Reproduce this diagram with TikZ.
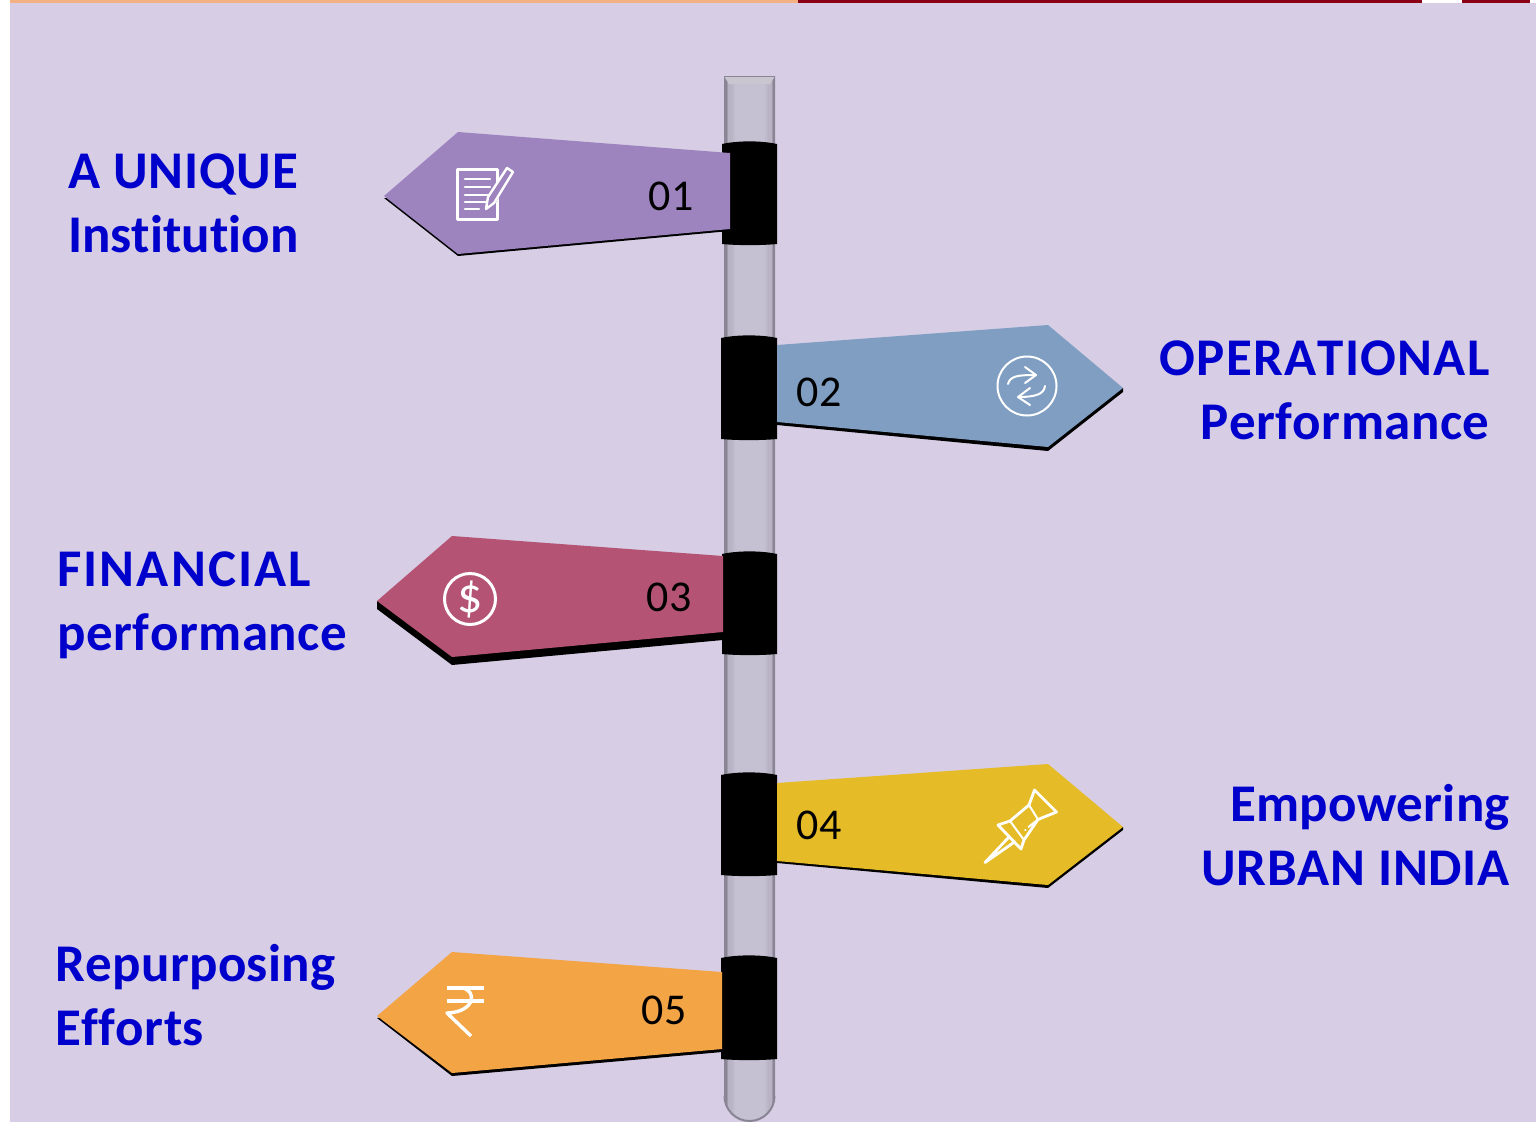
\documentclass[tikz,border=0pt]{standalone}
\usepackage{fontspec}
\setmainfont[Kerning=Off,Ligatures=NoCommon]{Carlito}
\newcommand{\ls}[2]{{\addfontfeature{LetterSpace=#1}#2}}
\definecolor{bgc}{HTML}{D7CDE5}
\definecolor{purp}{HTML}{9E84BF}
\definecolor{bluec}{HTML}{7F9EC2}
\definecolor{rose}{HTML}{B45374}
\definecolor{yell}{HTML}{E5BC27}
\definecolor{oran}{HTML}{F3A445}
\definecolor{txtb}{HTML}{0000CC}
\definecolor{barO}{HTML}{F4B183}
\definecolor{barR}{HTML}{8B0015}
\definecolor{pedge}{HTML}{8A8594}
\definecolor{pmid}{HTML}{C6C1D2}
\definecolor{pband}{HTML}{B9B4C5}
\definecolor{pcap}{HTML}{C9C6D0}
\pgfdeclarehorizontalshading{postshade}{100bp}{
 color(0bp)=(pedge); color(25bp)=(pedge);
 color(27bp)=(pedge); color(29bp)=(pband);
 color(32bp)=(pband); color(36bp)=(pmid);
 color(64bp)=(pmid); color(68bp)=(pband);
 color(71bp)=(pband); color(73bp)=(pedge);
 color(75bp)=(pedge); color(100bp)=(pedge)}
\tikzset{
 x=1pt,y=-1pt,
 lbl/.style={text=txtb,font=\fontsize{53}{64}\selectfont\bfseries,inner sep=0pt},
 num/.style={text=black,font=\fontsize{44}{50}\selectfont,inner sep=0pt,anchor=base},
 band/.style={fill=black},
 icon/.style={draw=white,line width=2.8pt,line cap=round,line join=round},
 thin icon/.style={draw=white,line width=2pt,line cap=round,line join=round},
}
\begin{document}
\begin{tikzpicture}
\useasboundingbox (0,0) rectangle (1536,1122);
\fill[white] (0,0) rectangle (1536,1122);
\fill[bgc] (10,3) rectangle (1536,1122);
\fill[barO] (10,0) rectangle (798,3);
\fill[barR] (798,0) rectangle (1422,3);
\fill[barR] (1462,0) rectangle (1530,3);
% post
\path[shading=postshade] (724,76) -- (775,76) -- (775,1096) arc[start angle=0,end angle=180,radius=25.5] -- cycle;
\draw[pedge,line width=2pt] (774.5,1096) arc[start angle=0,end angle=180,radius=25];
\fill[pcap] (724,76) -- (775,76) -- (770,84) -- (729,84) -- cycle;
\draw[pedge,line width=1.6pt] (724,76.5) -- (775,76.5);
% bands
\fill[band] (722,144) .. controls (738,140.5) and (761,140.5) .. (777,144) -- (777,244) .. controls (761,245.5) and (738,245.5) .. (722,244) -- cycle;
\fill[band] (721,338) .. controls (737,334.5) and (761,334.5) .. (777,338) -- (777,439) .. controls (761,440.5) and (737,440.5) .. (721,439) -- cycle;
\fill[band] (722,554) .. controls (738,550.5) and (761,550.5) .. (777,554) -- (777,654) .. controls (761,655.5) and (738,655.5) .. (722,654) -- cycle;
\fill[band] (721,775) .. controls (737,771.5) and (761,771.5) .. (777,775) -- (777,875) .. controls (761,876.5) and (737,876.5) .. (721,875) -- cycle;
\fill[band] (721,958) .. controls (737,954.5) and (761,954.5) .. (777,958) -- (777,1059) .. controls (761,1060.5) and (737,1060.5) .. (721,1059) -- cycle;
% arrows: shadow + face
\fill[black] (384,198) -- (458,256) -- (730,231) -- (730,200) -- cycle;
\fill[purp] (384,196) -- (458,132) -- (730,153) -- (730,229) -- (458,254) -- cycle;
\fill[black] (777,425) -- (1048,451) -- (1123,392) -- (1123,388) -- (1048,400) -- (777,400) -- cycle;
\fill[bluec] (777,345) -- (1048,325) -- (1123,388) -- (1048,447) -- (777,422) -- cycle;
\fill[black] (377,609) -- (452,665) -- (723,640) -- (723,600) -- (452,600) -- (377,601) -- cycle;
\fill[rose] (377,601) -- (452,536) -- (723,556) -- (723,632) -- (452,657) -- cycle;
\fill[black] (777,863) -- (1048,888) -- (1123,830) -- (1123,827) -- (1048,840) -- (777,840) -- cycle;
\fill[yell] (777,783) -- (1048,764) -- (1123,827) -- (1048,885) -- (777,861) -- cycle;
\fill[black] (377,1018) -- (452,1076) -- (722,1052) -- (722,1000) -- cycle;
\fill[oran] (377,1016) -- (452,952) -- (722,972) -- (722,1049) -- (452,1073) -- cycle;
% numbers
\node[num] (n1) at (671,210) {01};
\node[num] (n2) at (819,406) {02};
\node[num] (n3) at (669,611) {03};
\node[num] (n4) at (819,839) {04};
\node[num] (n5) at (664,1024) {05};
% labels
\node[lbl,anchor=west,align=left] (l1) at (68,203) {\ls{1.7}{A UNIQUE}\\Institution};
\node[lbl,anchor=east,align=right] (l2) at (1490,390) {\ls{2.4}{OPERATIONAL}\\\ls{0.9}{Performance}};
\node[lbl,anchor=west,align=left] (l3) at (57,605) {\ls{4}{FINANCIAL}\\\ls{1}{performance}};
\node[lbl,anchor=east,align=right] (l4) at (1510,835) {\ls{0.4}{Empowering}\\\ls{1.4}{URBAN INDIA}};
\node[lbl,anchor=west,align=left] (l5) at (55,995) {\ls{0.7}{Repurposing}\\\ls{0.8}{Efforts}};
% icon 1: document and pencil
\draw[icon] (457.5,169.5) rectangle (497.5,219.5);
\foreach \yy/\xe in {179/490,187/490,195/490,202/488,209/479}{\draw[draw=white,line width=2.2pt,line cap=round] (465,\yy) -- (\xe,\yy);}
\fill[purp] (486,210) -- (487,197) -- (507,167) -- (515,171) -- (495,204) -- cycle;
\draw[thin icon,fill=purp,line width=2.4pt] (486,209) -- (488,197) -- (507,168) -- (513,172) -- (494,203) -- cycle;
% icon 2: cycle arrows
\draw[draw=white,line width=2pt] (1027,386) circle[radius=29.5];
\draw[thin icon] (1008,384) .. controls (1010,376) and (1018,375) .. (1035,375);
\draw[thin icon] (1025,367) -- (1036,375) -- (1025,383);
\draw[thin icon] (1045,386) .. controls (1044,394) and (1036,397) .. (1018,397);
\draw[thin icon] (1030,388) -- (1018,397) -- (1030,405);
% icon 3: dollar
\draw[draw=white,line width=3pt] (470,599) circle[radius=25.5];
\node[inner sep=0pt,text=white,font=\fontsize{50}{50}\selectfont] (d) at (470,599) {\$};
% icon 4: push pin
\draw[icon] (1034.5,790) -- (1056.5,812) -- (1038,819.5) -- (1024,840) -- (1021,849) -- (998,825) -- (1010,821) -- (1029,805) -- cycle;
\draw[thin icon] (1029,805) -- (1038,819.5);
\draw[thin icon] (1010,821) -- (1024,840);
\draw[thin icon] (1028.5,827) -- (1036,821);
\draw[thin icon] (1025,829.5) -- (1025.5,829.5);
\draw[icon] (1008,838) -- (985,862.5) -- (1013,843);
% icon 5: rupee
\draw[icon,line width=3.4pt,line cap=butt] (447,988) -- (484,988);
\draw[icon,line width=3.4pt,line cap=butt] (447,1001) -- (484,1001);
\draw[icon,line width=3.4pt,line cap=butt] (462,988) .. controls (477,990) and (476,1012) .. (447,1013) -- (471,1036);
\end{tikzpicture}
\end{document}
